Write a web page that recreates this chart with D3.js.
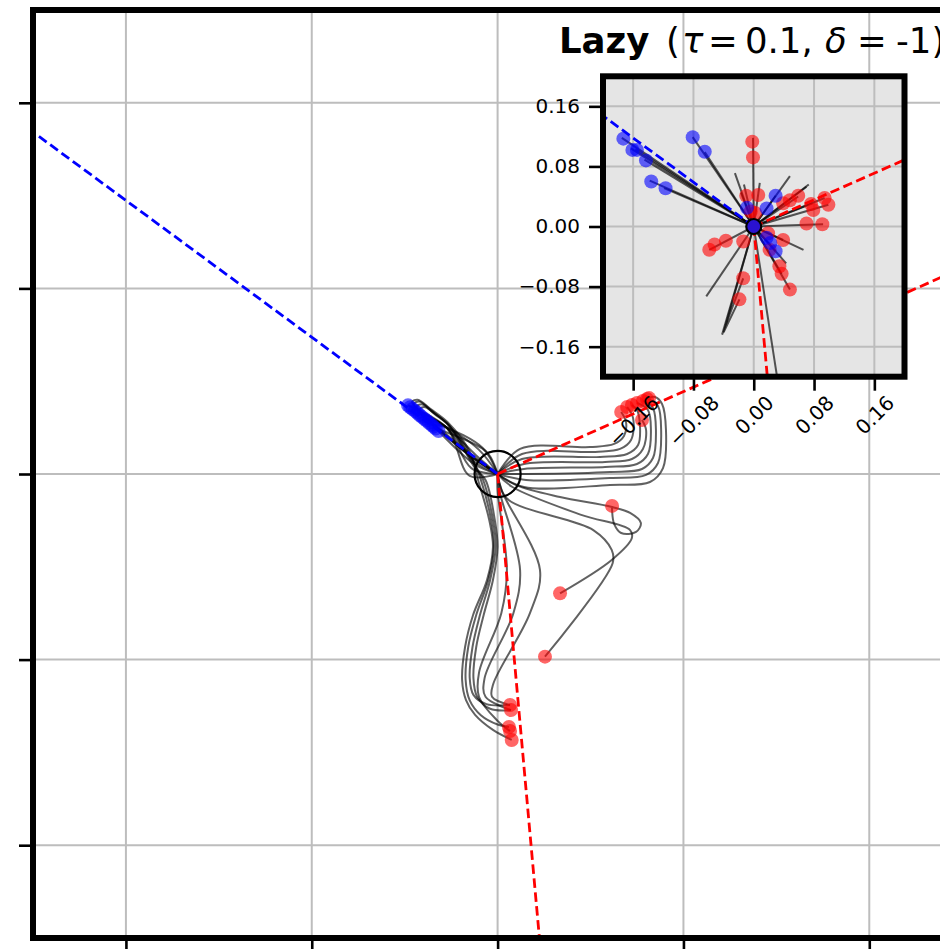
<!DOCTYPE html>
<html>
<head>
<meta charset="utf-8">
<script src="https://cdn.jsdelivr.net/npm/d3@7"></script>
<style>
  html, body { margin: 0; padding: 0; background: #fff; overflow: hidden; }
  text { font-family: "DejaVu Sans", sans-serif; }
</style>
</head>
<body>
<svg id="fig" width="940" height="949"></svg>
<script>
// ---------- data ----------
const mainTicks = [-2, -1, 0, 1, 2];
const insetTicks = [-0.16, -0.08, 0, 0.08, 0.16];
const mainDomain = [-2.5, 2.5];
const insetDomain = [-0.2, 0.2];
const titleBold = "Lazy";
const tauValue = "0.1";
const deltaValue = "-1";

// target directions (rays from the origin)
const rayBlue = [-1, 0.737];
const rayRedA = [1, 0.444];
const rayRedB = [0.09, -1];
const initRadius = 0.124;

// main panel: trajectories ending at the blue targets
const mainBluePaths = [
  [[0, 0], [-0.15, -0.01], [-0.27, 0.245], [-0.482, 0.370]],
  [[0, 0], [-0.14, 0.03], [-0.275, 0.25], [-0.458, 0.350]],
  [[0, 0], [-0.13, 0.07], [-0.28, 0.255], [-0.433, 0.330]],
  [[0, 0], [-0.115, 0.10], [-0.285, 0.258], [-0.408, 0.308]],
  [[0, 0], [-0.10, 0.13], [-0.29, 0.26], [-0.383, 0.288]],
  [[0, 0], [-0.08, 0.14], [-0.29, 0.255], [-0.356, 0.265]],
  [[0, 0], [-0.06, 0.12], [-0.333, 0.245]],
  [[0, 0], [-0.12, 0.05], [-0.318, 0.232]]
];
const mainBlueDots = [
  [-0.482, 0.370], [-0.470, 0.360], [-0.458, 0.350], [-0.445, 0.340], [-0.433, 0.330],
  [-0.420, 0.318], [-0.408, 0.308], [-0.395, 0.298], [-0.383, 0.288], [-0.370, 0.276],
  [-0.356, 0.265], [-0.345, 0.255], [-0.333, 0.245], [-0.318, 0.232]
];

// main panel: trajectories ending at the red targets
const mainRedPaths = [
  // upper-right branch
  [[0, 0], [0.121, 0.135], [0.497, 0.145], [0.627, 0.162], [0.680, 0.205], [0.691, 0.280], [0.665, 0.334]],
  [[0, 0], [0.131, 0.108], [0.525, 0.119], [0.659, 0.135], [0.718, 0.183], [0.729, 0.302], [0.697, 0.361]],
  [[0, 0], [0.131, 0.081], [0.551, 0.092], [0.697, 0.108], [0.756, 0.156], [0.766, 0.264], [0.750, 0.345], [0.723, 0.372]],
  [[0, 0], [0.142, 0.054], [0.578, 0.065], [0.723, 0.081], [0.782, 0.135], [0.799, 0.237], [0.777, 0.291]],
  [[0, 0], [0.142, 0.027], [0.578, 0.038], [0.750, 0.054], [0.809, 0.108], [0.825, 0.237], [0.809, 0.345], [0.750, 0.383]],
  [[0, 0], [0.153, 0.0], [0.605, 0.011], [0.777, 0.027], [0.836, 0.086], [0.852, 0.237], [0.836, 0.356], [0.799, 0.388], [0.782, 0.393]],
  [[0, 0], [0.153, -0.032], [0.605, -0.022], [0.799, -0.005], [0.863, 0.059], [0.880, 0.237], [0.863, 0.366], [0.820, 0.399], [0.804, 0.404]],
  [[0, 0], [0.142, -0.070], [0.605, -0.059], [0.820, -0.043], [0.890, 0.032], [0.906, 0.237], [0.885, 0.377], [0.847, 0.415], [0.815, 0.409]],
  // middle branch
  [[0, 0], [0.10, -0.06], [0.336, -0.124], [0.616, -0.178], [0.713, -0.210], [0.771, -0.264], [0.745, -0.312], [0.665, -0.318], [0.627, -0.269], [0.616, -0.194], [0.616, -0.172]],
  [[0, 0], [0.08, -0.07], [0.45, -0.22], [0.713, -0.302], [0.722, -0.346], [0.614, -0.463], [0.336, -0.643]],
  [[0, 0], [0.049, -0.131], [0.515, -0.302], [0.614, -0.409], [0.619, -0.481], [0.255, -0.984]],
  // lower branch (first detour towards the blue direction)
  [[0, 0], [-0.16, 0.12], [-0.32, 0.25], [-0.43, 0.345], [-0.46, 0.39], [-0.43, 0.40], [-0.36, 0.35], [-0.27, 0.28], [-0.15, 0.12], [-0.105, -0.032], [-0.045, -0.248], [-0.025, -0.393], [-0.057, -0.571], [-0.132, -0.760], [-0.175, -0.932], [-0.191, -1.110], [-0.170, -1.218], [-0.121, -1.298], [-0.025, -1.379], [0.076, -1.433]],
  [[0, 0], [-0.16, 0.11], [-0.315, 0.24], [-0.42, 0.335], [-0.45, 0.38], [-0.42, 0.39], [-0.355, 0.34], [-0.27, 0.27], [-0.14, 0.09], [-0.09, -0.032], [-0.035, -0.248], [-0.02, -0.393], [-0.05, -0.571], [-0.115, -0.76], [-0.158, -0.932], [-0.172, -1.11], [-0.15, -1.22], [-0.09, -1.30], [0.0, -1.35], [0.061, -1.363]],
  [[0, 0], [-0.15, 0.10], [-0.30, 0.225], [-0.40, 0.315], [-0.435, 0.365], [-0.405, 0.375], [-0.345, 0.33], [-0.265, 0.265], [-0.13, 0.06], [-0.078, -0.032], [-0.025, -0.248], [-0.01, -0.393], [-0.04, -0.571], [-0.095, -0.76], [-0.135, -0.932], [-0.15, -1.10], [-0.13, -1.19], [-0.06, -1.24], [0.067, -1.245]],
  [[0, 0], [-0.145, 0.095], [-0.29, 0.215], [-0.39, 0.30], [-0.42, 0.35], [-0.39, 0.36], [-0.335, 0.32], [-0.26, 0.26], [-0.12, 0.03], [-0.065, -0.032], [-0.015, -0.248], [0.0, -0.393], [-0.025, -0.571], [-0.075, -0.76], [-0.115, -0.932], [-0.13, -1.10], [-0.11, -1.20], [-0.04, -1.265], [0.072, -1.272]],
  [[0, 0], [0.0, -0.09], [0.05, -0.517], [0.02, -0.75], [-0.10, -1.07], [-0.10, -1.20], [0.0, -1.33], [0.067, -1.385]],
  [[0, 0], [0.01, -0.09], [0.121, -0.517], [0.085, -0.75], [-0.07, -1.10], [-0.065, -1.20], [0.072, -1.272]],
  [[0, 0], [0.022, -0.09], [0.228, -0.517], [0.174, -0.75], [-0.023, -1.13], [-0.03, -1.20], [0.067, -1.245]]
];
const mainRedDots = [
  [0.665, 0.334], [0.697, 0.361], [0.723, 0.372], [0.777, 0.291], [0.750, 0.383], [0.782, 0.393], [0.804, 0.404], [0.815, 0.409],
  [0.616, -0.172], [0.336, -0.643], [0.255, -0.984],
  [0.067, -1.245], [0.072, -1.272], [0.061, -1.363], [0.067, -1.385], [0.076, -1.433]
];

// inset panel: early (lazy) trajectories near the origin
const insetPaths = [
  [[0, 0], [-0.175, 0.118]], [[0, 0], [-0.163, 0.104]], [[0, 0], [-0.157, 0.103]],
  [[0, 0], [-0.145, 0.089]], [[0, 0], [-0.138, 0.061]], [[0, 0], [-0.119, 0.051]],
  [[0, 0], [-0.081, 0.119]], [[0, 0], [-0.065, 0.099]],
  [[0, 0], [-0.025, 0.071]], [[0, 0], [-0.013, 0.056]], [[0, 0], [-0.001, 0.118]],
  [[0, 0], [0.008, 0.058]], [[0, 0], [0.048, 0.067]], [[0, 0], [0.070, 0.053]],
  [[0, 0], [0.073, 0.056]], [[0, 0], [0.099, 0.029]], [[0, 0], [0.094, 0.038]],
  [[0, 0], [0.078, 0.031]], [[0, 0], [0.059, 0.040]], [[0, 0], [0.092, 0.003]],
  [[0, 0], [0.066, -0.031]], [[0, 0], [0.043, -0.049]], [[0, 0], [0.048, -0.084]],
  [[0, 0], [0.037, -0.063]], [[0, 0], [-0.059, -0.031]], [[0, 0], [-0.063, -0.093]],
  [[0, 0], [-0.042, -0.144], [-0.014, -0.069]],
  [[0, 0], [-0.040, -0.141], [-0.019, -0.097]],
  [[0, 0], [0.034, -0.22]],
  [[0, 0], [0.029, 0.041]], [[0, 0], [-0.017, 0.045]],
  [[0, 0], [0.029, -0.033]], [[0, 0], [0.039, -0.018]]
];
const insetBlueDots = [
  [-0.173, 0.117], [-0.161, 0.102], [-0.155, 0.102], [-0.143, 0.088], [-0.136, 0.060],
  [-0.117, 0.051], [-0.081, 0.119], [-0.065, 0.0995], [0.029, 0.041], [0.017, 0.024],
  [-0.009, 0.025], [0.017, -0.015], [0.029, -0.033], [0.022, -0.022]
];
const insetRedDots = [
  [-0.002, 0.113], [-0.001, 0.092], [-0.010, 0.041], [0.006, 0.042], [-0.004, 0.020],
  [0.002, 0.018], [0.039, 0.031], [0.048, 0.035], [0.059, 0.041], [0.076, 0.030],
  [0.079, 0.022], [0.094, 0.038], [0.099, 0.029], [0.070, 0.004], [0.091, 0.003],
  [0.039, -0.018], [0.021, -0.031], [0.034, -0.053], [0.037, -0.063], [0.048, -0.084],
  [-0.014, -0.069], [-0.019, -0.097], [-0.059, -0.031], [-0.052, -0.024], [-0.037, -0.019],
  [-0.014, -0.020], [0.019, -0.009]
];

// ---------- layout ----------
const svg = d3.select("#fig");
const M = { left: 33, right: 962.2, top: 10, bottom: 938 };
const I = { left: 603, right: 904.5, top: 76.3, bottom: 376.7 };

const xM = d3.scaleLinear().domain(mainDomain).range([M.left, M.right]);
const yM = d3.scaleLinear().domain(mainDomain).range([M.bottom, M.top]);
const xI = d3.scaleLinear().domain(insetDomain).range([I.left, I.right]);
const yI = d3.scaleLinear().domain(insetDomain).range([I.bottom, I.top]);

const defs = svg.append("defs");
defs.append("clipPath").attr("id", "clipMain").append("rect")
  .attr("x", M.left).attr("y", M.top).attr("width", M.right - M.left).attr("height", M.bottom - M.top);
defs.append("clipPath").attr("id", "clipInset").append("rect")
  .attr("x", I.left).attr("y", I.top).attr("width", I.right - I.left).attr("height", I.bottom - I.top);

const gridColor = "#bdbdbd";
const dotR = 7;

// ---------- main panel ----------
const main = svg.append("g").attr("clip-path", "url(#clipMain)");
main.selectAll("line.gx").data(mainTicks).join("line")
  .attr("x1", d => xM(d)).attr("x2", d => xM(d)).attr("y1", M.top).attr("y2", M.bottom)
  .attr("stroke", gridColor).attr("stroke-width", 2);
main.selectAll("line.gy").data(mainTicks).join("line")
  .attr("y1", d => yM(d)).attr("y2", d => yM(d)).attr("x1", M.left).attr("x2", M.right)
  .attr("stroke", gridColor).attr("stroke-width", 2);

const smooth = d3.line().x(d => xM(d[0])).y(d => yM(d[1])).curve(d3.curveCatmullRom.alpha(0.5));
main.append("g").selectAll("path").data(mainBluePaths.concat(mainRedPaths)).join("path")
  .attr("d", smooth).attr("fill", "none").attr("stroke", "#000")
  .attr("stroke-opacity", 0.62).attr("stroke-width", 2);

main.append("g").selectAll("circle").data(mainRedDots).join("circle")
  .attr("cx", d => xM(d[0])).attr("cy", d => yM(d[1])).attr("r", dotR)
  .attr("fill", "#ff0000").attr("fill-opacity", 0.6);
main.append("g").selectAll("circle").data(mainBlueDots).join("circle")
  .attr("cx", d => xM(d[0])).attr("cy", d => yM(d[1])).attr("r", dotR)
  .attr("fill", "#0000ff").attr("fill-opacity", 0.6);

function drawRays(g, xs, ys, len) {
  [[rayBlue, "#0000ff"], [rayRedA, "#ff0000"], [rayRedB, "#ff0000"]].forEach(([dir, col]) => {
    g.append("line")
      .attr("x1", xs(0)).attr("y1", ys(0))
      .attr("x2", xs(dir[0] * len)).attr("y2", ys(dir[1] * len))
      .attr("stroke", col).attr("stroke-width", 2.8).attr("stroke-dasharray", "9.5,4.5");
  });
}
drawRays(main, xM, yM, 5);

main.append("circle").attr("cx", xM(0)).attr("cy", yM(0))
  .attr("r", xM(initRadius) - xM(0))
  .attr("fill", "none").attr("stroke", "#000").attr("stroke-width", 2.2);

// main axes: ticks without labels
svg.append("g").attr("transform", `translate(${M.left},0)`)
  .call(d3.axisLeft(yM).tickValues(mainTicks).tickFormat("").tickSizeInner(14).tickSizeOuter(0))
  .call(g => g.select(".domain").remove())
  .call(g => g.selectAll("line").attr("stroke", "#000").attr("stroke-width", 2.6));
svg.append("g").attr("transform", `translate(0,${M.bottom})`)
  .call(d3.axisBottom(xM).tickValues(mainTicks).tickFormat("").tickSizeInner(14).tickSizeOuter(0))
  .call(g => g.select(".domain").remove())
  .call(g => g.selectAll("line").attr("stroke", "#000").attr("stroke-width", 2.6));

svg.append("rect").attr("x", M.left).attr("y", M.top)
  .attr("width", M.right - M.left).attr("height", M.bottom - M.top)
  .attr("fill", "none").attr("stroke", "#000").attr("stroke-width", 6);

// ---------- inset title (runs past the right edge of the figure) ----------
const title = svg.append("text").attr("y", 53).attr("font-size", 35.5).attr("fill", "#000");
title.append("tspan").attr("x", 559).attr("font-weight", "bold").text(titleBold);
title.append("tspan").attr("x", 666).text("(");
title.append("tspan").attr("x", 682).attr("font-style", "italic").text("τ");
title.append("tspan").attr("x", 708).text("=");
title.append("tspan").attr("x", 745).text(tauValue + ",");
title.append("tspan").attr("x", 825).attr("font-style", "italic").text("δ");
title.append("tspan").attr("x", 857).text("=");
title.append("tspan").attr("x", 896).text(deltaValue + ")");

// ---------- inset panel ----------
svg.append("rect").attr("x", I.left).attr("y", I.top)
  .attr("width", I.right - I.left).attr("height", I.bottom - I.top).attr("fill", "#e5e5e5");

const inset = svg.append("g").attr("clip-path", "url(#clipInset)");
inset.selectAll("line.gx").data(insetTicks).join("line")
  .attr("x1", d => xI(d)).attr("x2", d => xI(d)).attr("y1", I.top).attr("y2", I.bottom)
  .attr("stroke", gridColor).attr("stroke-width", 2);
inset.selectAll("line.gy").data(insetTicks).join("line")
  .attr("y1", d => yI(d)).attr("y2", d => yI(d)).attr("x1", I.left).attr("x2", I.right)
  .attr("stroke", gridColor).attr("stroke-width", 2);

const straight = d3.line().x(d => xI(d[0])).y(d => yI(d[1]));
inset.append("g").selectAll("path").data(insetPaths).join("path")
  .attr("d", straight).attr("fill", "none").attr("stroke", "#000")
  .attr("stroke-opacity", 0.65).attr("stroke-width", 2);

inset.append("g").selectAll("circle").data(insetRedDots).join("circle")
  .attr("cx", d => xI(d[0])).attr("cy", d => yI(d[1])).attr("r", dotR)
  .attr("fill", "#ff0000").attr("fill-opacity", 0.6);
inset.append("g").selectAll("circle").data(insetBlueDots).join("circle")
  .attr("cx", d => xI(d[0])).attr("cy", d => yI(d[1])).attr("r", dotR)
  .attr("fill", "#0000ff").attr("fill-opacity", 0.6);

drawRays(inset, xI, yI, 0.5);

inset.append("circle").attr("cx", xI(0)).attr("cy", yI(0)).attr("r", 7.5)
  .attr("fill", "#2a12d0").attr("stroke", "#000").attr("stroke-width", 2.2);

// inset axes
const fmt = d3.format(".2f");
svg.append("g").attr("transform", `translate(${I.left},0)`)
  .call(d3.axisLeft(yI).tickValues(insetTicks).tickFormat(fmt).tickSizeInner(14).tickSizeOuter(0).tickPadding(9))
  .call(g => g.select(".domain").remove())
  .call(g => g.selectAll("line").attr("stroke", "#000").attr("stroke-width", 2.6))
  .call(g => g.selectAll("text").attr("font-size", 20).attr("font-family", "DejaVu Sans").attr("fill", "#000"));

const xAx = svg.append("g").attr("transform", `translate(0,${I.bottom})`)
  .call(d3.axisBottom(xI).tickValues(insetTicks).tickFormat(fmt).tickSizeInner(14).tickSizeOuter(0))
  .call(g => g.select(".domain").remove())
  .call(g => g.selectAll("line").attr("stroke", "#000").attr("stroke-width", 2.6));
xAx.selectAll("text")
  .attr("font-size", 20).attr("font-family", "DejaVu Sans").attr("fill", "#000")
  .attr("text-anchor", "middle").attr("dominant-baseline", "central")
  .attr("y", 0).attr("dy", 0)
  .each(function () {
    const L = this.getComputedTextLength();
    const half = (L + 16) / (2 * Math.SQRT2);
    d3.select(this).attr("transform", `translate(0,${17 + half}) rotate(-45)`);
  });

svg.append("rect").attr("x", I.left).attr("y", I.top)
  .attr("width", I.right - I.left).attr("height", I.bottom - I.top)
  .attr("fill", "none").attr("stroke", "#000").attr("stroke-width", 6);
</script>
</body>
</html>
